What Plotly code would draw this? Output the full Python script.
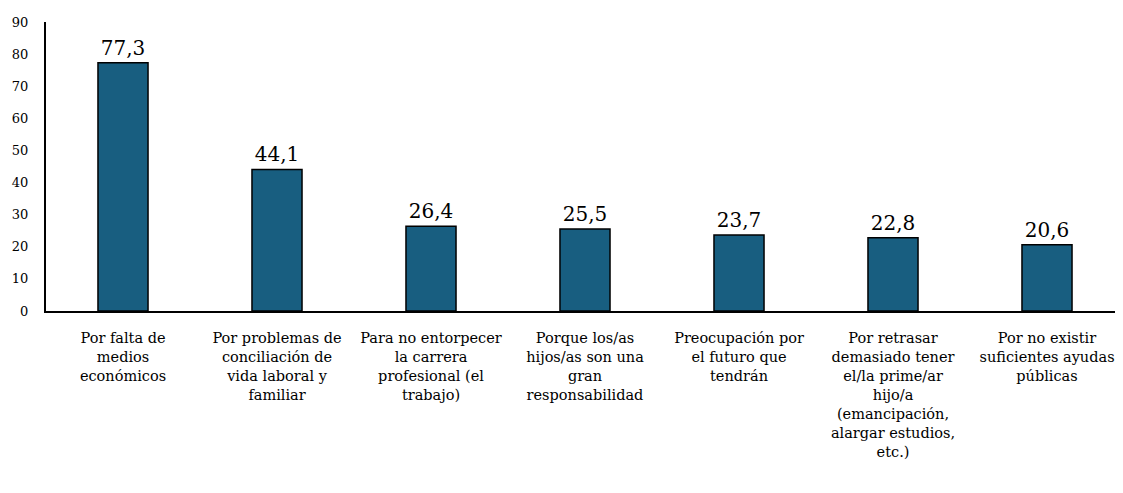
import plotly.graph_objects as go

categories = [
    "Por falta de<br>medios<br>económicos",
    "Por problemas de<br>conciliación de<br>vida laboral y<br>familiar",
    "Para no entorpecer<br>la carrera<br>profesional (el<br>trabajo)",
    "Porque los/as<br>hijos/as son una<br>gran<br>responsabilidad",
    "Preocupación por<br>el futuro que<br>tendrán",
    "Por retrasar<br>demasiado tener<br>el/la prime/ar<br>hijo/a<br>(emancipación,<br>alargar estudios,<br>etc.)",
    "Por no existir<br>suficientes ayudas<br>públicas",
]
values = [77.3, 44.1, 26.4, 25.5, 23.7, 22.8, 20.6]
y_ticks = [0, 10, 20, 30, 40, 50, 60, 70, 80, 90]

labels = [f"{v:.1f}".replace(".", ",") for v in values]
SERIF = "DejaVu Serif"

fig = go.Figure(go.Bar(
    x=categories, y=values, text=labels, textposition="outside",
    textfont=dict(family=SERIF, size=20, color="#000"),
    marker=dict(color="#185E80", line=dict(color="#000", width=1.5)),
    cliponaxis=False,
))
fig.update_layout(
    width=1123, height=493,
    margin=dict(l=38, r=7, t=14, b=190),
    paper_bgcolor="white", plot_bgcolor="white",
    bargap=0.675, showlegend=False,
    font=dict(family=SERIF, color="#000"),
    xaxis=dict(showline=True, linecolor="#000", linewidth=2, showgrid=False,
               tickfont=dict(family=SERIF, size=14.5), ticks="outside", ticklen=13,
               tickcolor="white", tickangle=0, automargin=False),
    yaxis=dict(range=[0, 90], tickvals=y_ticks, showline=True, linecolor="#000",
               linewidth=2, showgrid=False, zeroline=False,
               tickfont=dict(family=SERIF, size=13), ticklabelstandoff=13,
               automargin=False),
)
fig.write_html("out.html")
